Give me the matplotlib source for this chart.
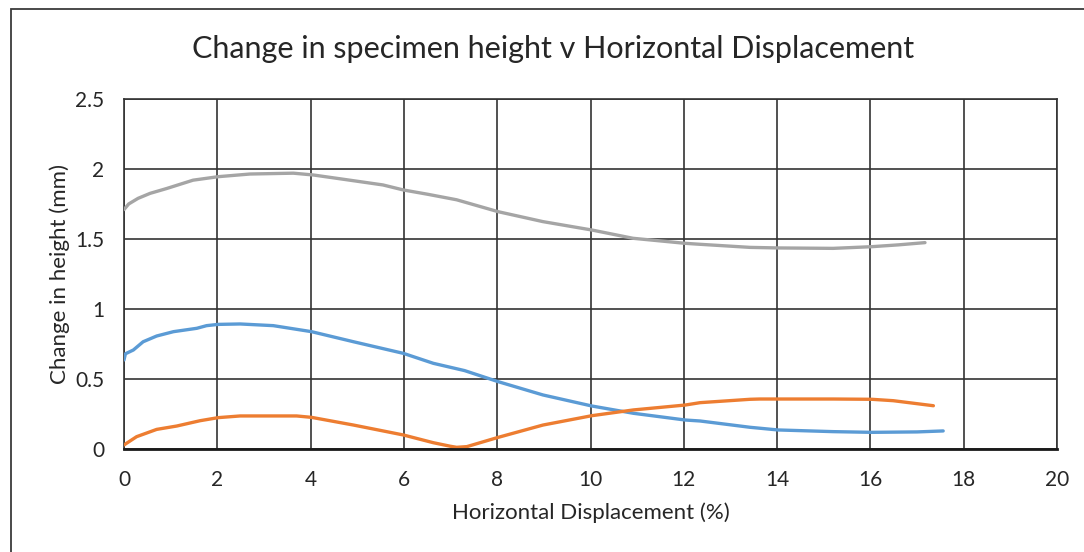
import numpy as np
import matplotlib.pyplot as plt
from matplotlib.patches import Rectangle

# horizontal displacement (%) and change in height (mm) for the three runs
x_gray = [0.0, 0.1, 0.3, 0.56, 0.91, 1.48, 2.02, 2.7, 3.63, 4.06, 4.63, 5.55, 5.99,
          6.5, 7.13, 8.02, 8.98, 10.03, 10.91, 12.03, 12.35, 13.42, 14.02, 15.2,
          16.03, 16.6, 17.17]
y_gray = [1.71, 1.75, 1.79, 1.826, 1.86, 1.92, 1.945, 1.964, 1.97, 1.957, 1.93,
          1.886, 1.85, 1.82, 1.78, 1.695, 1.624, 1.564, 1.505, 1.469, 1.462, 1.44,
          1.436, 1.433, 1.445, 1.458, 1.474]

x_blue = [0.0, 0.03, 0.2, 0.41, 0.7, 1.06, 1.56, 1.77, 2.02, 2.49, 3.2, 4.02, 4.92,
          5.99, 6.63, 7.3, 8.02, 8.98, 10.03, 10.92, 12.03, 12.35, 13.42, 14.02,
          15.2, 16.03, 17.0, 17.56]
y_blue = [0.636, 0.68, 0.707, 0.766, 0.807, 0.838, 0.862, 0.881, 0.89, 0.893, 0.881,
          0.838, 0.766, 0.683, 0.612, 0.56, 0.481, 0.386, 0.307, 0.255, 0.207, 0.2,
          0.155, 0.136, 0.124, 0.119, 0.122, 0.129]

x_orange = [0.0, 0.27, 0.7, 1.13, 1.63, 2.02, 2.49, 3.7, 4.02, 4.92, 5.99, 6.63,
            6.99, 7.13, 7.35, 8.02, 8.98, 10.03, 10.92, 12.03, 12.35, 13.42, 13.63,
            15.2, 16.03, 16.49, 17.35]
y_orange = [0.029, 0.088, 0.14, 0.164, 0.202, 0.224, 0.236, 0.236, 0.226, 0.171,
            0.1, 0.045, 0.02, 0.012, 0.017, 0.083, 0.171, 0.238, 0.279, 0.314,
            0.331, 0.355, 0.357, 0.357, 0.355, 0.345, 0.309]

x_ticks = np.arange(0, 21, 2)
y_ticks = [0, 0.5, 1, 1.5, 2, 2.5]
y_tick_labels = ['0', '0.5', '1', '1.5', '2', '2.5']

plt.rcParams['font.family'] = ['Lato', 'DejaVu Sans']

fig = plt.figure(figsize=(10.84, 5.52), dpi=100)
ax = fig.add_axes([0.1144, 0.1866, 0.8607, 0.6341])

# chart frame, only the left and top edges fall inside the image
fig.patches.append(Rectangle((11 / 1084, -0.05), 1.2, 1 - 9 / 552 + 0.05,
                             transform=fig.transFigure, fill=False,
                             edgecolor='#3a3a3a', linewidth=1.3))

ax.plot(x_gray, y_gray, color='#A5A5A5', lw=2.4, solid_capstyle='round', zorder=3)
ax.plot(x_blue, y_blue, color='#5B9BD5', lw=2.4, solid_capstyle='round', zorder=3)
ax.plot(x_orange, y_orange, color='#ED7D31', lw=2.4, solid_capstyle='round', zorder=3)

ax.set_xlim(0, 20)
ax.set_ylim(0, 2.5)
ax.set_xticks(x_ticks)
ax.set_yticks(y_ticks)
ax.set_yticklabels(y_tick_labels)
ax.tick_params(length=0, labelsize=15, colors='#262626')
ax.tick_params(axis='x', pad=15)
ax.tick_params(axis='y', pad=14)

ax.grid(True, color='#333333', lw=1.2)
for side in ['top', 'right', 'left']:
    ax.spines[side].set_color('#333333')
    ax.spines[side].set_linewidth(1.2)
ax.spines['bottom'].set_color('#1a1a1a')
ax.spines['bottom'].set_linewidth(2)
ax.spines['bottom'].set_zorder(4)

ax.set_xlabel('Horizontal Displacement (%)', fontsize=16, color='#262626', labelpad=9)
ax.set_ylabel('Change in height (mm)', fontsize=16, color='#262626', labelpad=4)
fig.text(0.51, 0.912, 'Change in specimen height v Horizontal Displacement',
         ha='center', va='center', fontsize=22, color='#262626')

fig.savefig('out.png', dpi=100)
